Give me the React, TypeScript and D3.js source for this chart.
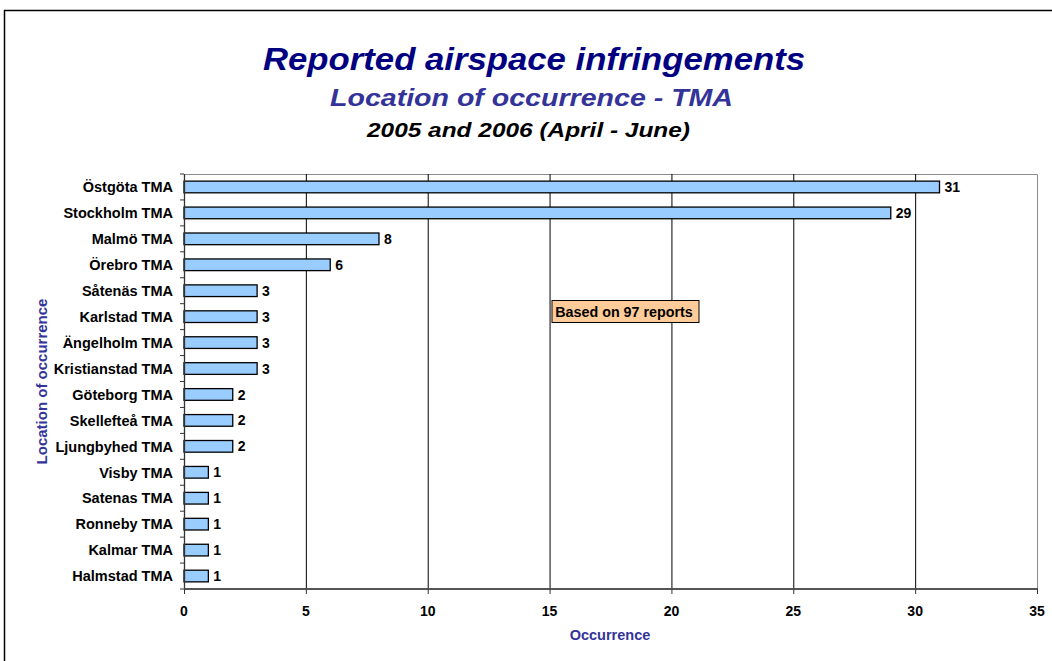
import React from 'react';
import * as d3 from 'd3';

const locations = [
  'Östgöta TMA', 'Stockholm TMA', 'Malmö TMA', 'Örebro TMA', 'Såtenäs TMA',
  'Karlstad TMA', 'Ängelholm TMA', 'Kristianstad TMA', 'Göteborg TMA',
  'Skellefteå TMA', 'Ljungbyhed TMA', 'Visby TMA', 'Satenas TMA',
  'Ronneby TMA', 'Kalmar TMA', 'Halmstad TMA',
];
const occurrences = [31, 29, 8, 6, 3, 3, 3, 3, 2, 2, 2, 1, 1, 1, 1, 1];
const xTicks = [0, 5, 10, 15, 20, 25, 30, 35];

const W = 1052;
const H = 661;
const FONT = '"Liberation Sans", Arial, sans-serif';

export default function App() {
  const left = 184;
  const right = 1037;
  const top = 174;
  const bottom = 589;

  const x = d3.scaleLinear().domain([0, 35]).range([left, right]);
  const y = d3.scaleBand().domain(locations).range([top, bottom]).paddingInner(0.55).paddingOuter(0.275);
  const step = y.step();

  return (
    <svg width={W} height={H} style={{ position: 'absolute', left: 0, top: 0 }} fontFamily={FONT}>
      <rect x={0} y={0} width={W} height={H} fill="#fff" />
      {/* outer frame */}
      <path d={`M4.5,${H} V10.5 H${W}`} fill="none" stroke="#000" strokeWidth={1.5} />

      {/* titles */}
      <text x={534} y={70} textAnchor="middle" fontSize={32} fontWeight="bold" fontStyle="italic" fill="#000080"
        textLength={542} lengthAdjust="spacingAndGlyphs">
        Reported airspace infringements
      </text>
      <text x={531.5} y={106} textAnchor="middle" fontSize={23} fontWeight="bold" fontStyle="italic" fill="#333399"
        textLength={403} lengthAdjust="spacingAndGlyphs">
        Location of occurrence - TMA
      </text>
      <text x={528.5} y={137} textAnchor="middle" fontSize={20} fontWeight="bold" fontStyle="italic" fill="#000"
        textLength={323} lengthAdjust="spacingAndGlyphs">
        2005 and 2006 (April - June)
      </text>

      {/* plot frame: top and right */}
      <path d={`M${left},${top + 0.5} H${right + 0.5} V${bottom}`} fill="none" stroke="#8c8c8c" strokeWidth={1} />

      {/* grid */}
      {xTicks.slice(1, -1).map((t) => (
        <line key={t} x1={x(t) + 0.5} x2={x(t) + 0.5} y1={top} y2={bottom} stroke="#000" strokeWidth={1} />
      ))}

      {/* bars */}
      {locations.map((loc, i) => {
        const v = occurrences[i];
        const by = y(loc)!;
        return (
          <g key={loc}>
            <rect x={x(0)} y={by} width={x(v) - x(0)} height={y.bandwidth()} fill="#99CCFF" stroke="#000" strokeWidth={1.3} />
            <text x={x(v) + 5} y={by + y.bandwidth() / 2} dy="0.36em" fontSize={14} fontWeight="bold">
              {v}
            </text>
            <text x={173} y={by + y.bandwidth() / 2} dy="0.36em" textAnchor="end" fontSize={14.5} fontWeight="bold">
              {loc}
            </text>
          </g>
        );
      })}

      {/* y axis */}
      <line x1={left + 0.5} x2={left + 0.5} y1={top} y2={bottom} stroke="#333" strokeWidth={1.3} />
      {d3.range(locations.length + 1).map((i) => (
        <line key={i} x1={left - 4} x2={left} y1={top + i * step} y2={top + i * step} stroke="#333" strokeWidth={1} />
      ))}

      {/* x axis */}
      <line x1={left} x2={right + 1} y1={bottom} y2={bottom} stroke="#555" strokeWidth={2.2} />
      {xTicks.map((t) => (
        <g key={t}>
          <line x1={x(t) + 0.5} x2={x(t) + 0.5} y1={bottom} y2={bottom + 5} stroke="#333" strokeWidth={1} />
          <text x={x(t)} y={616} textAnchor="middle" fontSize={14} fontWeight="bold">
            {t}
          </text>
        </g>
      ))}

      {/* axis titles */}
      <text x={610} y={640} textAnchor="middle" fontSize={14.5} fontWeight="bold" fill="#333399">
        Occurrence
      </text>
      <text transform={`translate(47,${(top + bottom) / 2}) rotate(-90)`} textAnchor="middle" fontSize={15} fontWeight="bold" fill="#333399">
        Location of occurrence
      </text>

      {/* note */}
      <rect x={552} y={300.5} width={147} height={22} fill="#FFCC99" stroke="#000" strokeWidth={1} />
      <text x={624} y={311.5} dy="0.36em" textAnchor="middle" fontSize={14.3} fontWeight="bold">
        Based on 97 reports
      </text>
    </svg>
  );
}
